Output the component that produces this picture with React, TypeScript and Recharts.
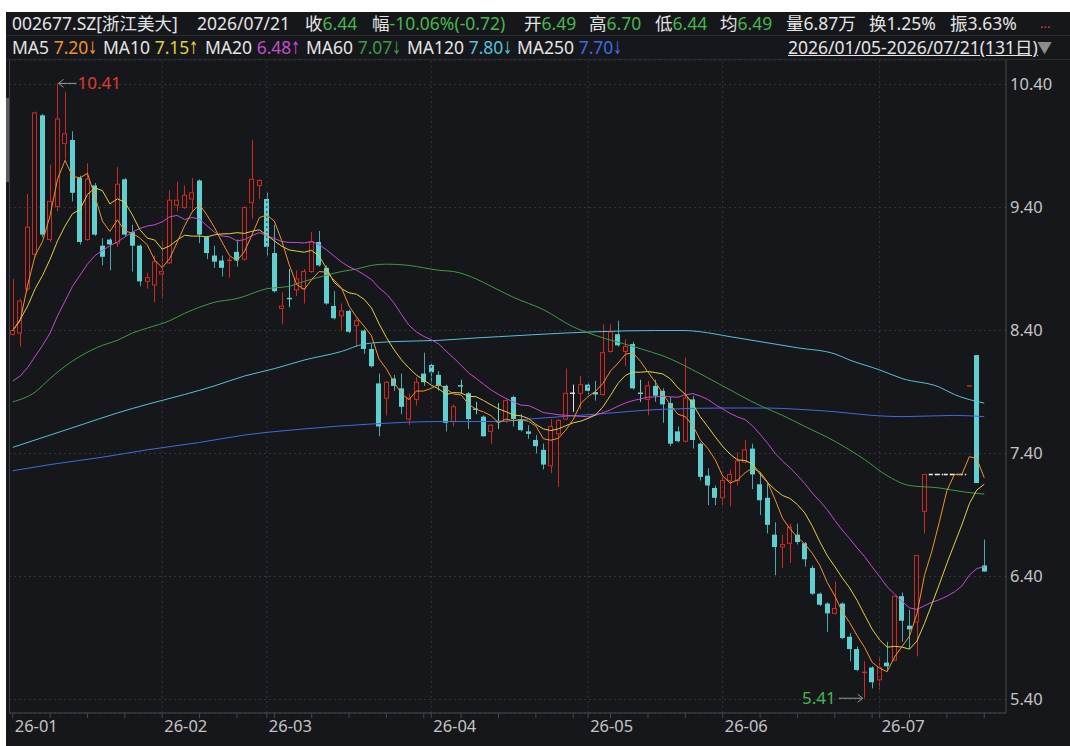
import {
  ComposedChart,
  Bar,
  Line,
  XAxis,
  YAxis,
  CartesianGrid,
  ReferenceLine,
  ReferenceDot,
} from "recharts";

// daily candles 2026/01/05 - 2026/07/21, 131 trading days
const opens = [
  8.37, 8.38, 8.74, 9.02, 10.15, 9.14, 9.41, 9.92, 9.95, 9.64,
  9.14, 9.58, 9.09, 9.14, 9.11, 9.63, 9.2, 9.09, 8.8, 8.77,
  8.86, 8.95, 9.42, 9.4, 9.47, 9.62, 9.16, 9.01, 8.97, 8.96,
  9.04, 8.98, 9.44, 9.58, 9.47, 9.03, 8.58, 8.66, 8.73, 8.74,
  8.88, 9.12, 8.91, 8.6, 8.52, 8.56, 8.44, 8.4, 8.25, 7.97,
  7.85, 8.01, 7.93, 7.68, 7.84, 8.05, 8.12, 8.04, 7.95, 7.66,
  7.95, 7.89, 7.76, 7.7, 7.58, 7.66, 7.66, 7.86, 7.68, 7.58,
  7.51, 7.43, 7.3, 7.56, 7.68, 7.89, 7.89, 7.96, 7.9, 7.88,
  8.23, 8.37, 8.23, 8.29, 7.89, 7.84, 7.95, 7.91, 7.81, 7.58,
  7.5, 7.84, 7.48, 7.22, 7.12, 7.04, 7.18, 7.18, 7.33, 7.44,
  7.15, 7.04, 6.74, 6.64, 6.67, 6.74, 6.67, 6.47, 6.26, 6.18,
  6.1, 6.18, 5.91, 5.81, 5.61, 5.66, 5.56, 5.7, 5.72, 6.24,
  6.0, 6.03, 6.93, 7.23, 7.23, 7.23, 7.23, 7.23, 7.95, 8.2,
  6.49,
];
const highs = [
  8.82, 8.66, 9.51, 10.18, 10.16, 9.75, 10.41, 10.34, 10.02, 9.66,
  9.76, 9.6, 9.15, 9.15, 9.73, 9.64, 9.26, 9.1, 8.87, 9.01,
  9.13, 9.54, 9.61, 9.58, 9.64, 9.63, 9.17, 9.09, 9.01, 9.0,
  9.14, 9.41, 9.95, 9.63, 9.52, 9.26, 8.71, 8.9, 8.89, 8.9,
  9.2, 9.21, 8.93, 8.72, 8.62, 8.57, 8.5, 8.41, 8.29, 8.05,
  7.99, 8.04, 8.05, 7.89, 8.02, 8.22, 8.13, 8.07, 7.96, 7.8,
  8.0, 7.9, 7.82, 7.71, 7.64, 7.81, 7.84, 7.87, 7.72, 7.63,
  7.55, 7.48, 7.68, 7.68, 8.09, 7.96, 8.03, 7.97, 7.99, 8.45,
  8.45, 8.48, 8.33, 8.31, 8.0, 7.99, 8.0, 7.93, 7.86, 7.62,
  8.18, 7.87, 7.49, 7.28, 7.14, 7.21, 7.27, 7.41, 7.51, 7.48,
  7.24, 7.16, 6.84, 6.74, 6.83, 6.83, 6.68, 6.49, 6.27, 6.19,
  6.36, 6.19, 5.94, 5.83, 5.71, 5.67, 5.75, 5.87, 6.24, 6.27,
  6.13, 6.57, 7.23, 7.23, 7.23, 7.23, 7.23, 7.23, 7.95, 8.2,
  6.7,
];
const lows = [
  8.36, 8.27, 8.72, 9.0, 9.16, 9.12, 9.37, 9.79, 9.45, 9.1,
  9.13, 9.17, 8.93, 8.89, 9.08, 9.17, 8.88, 8.76, 8.74, 8.63,
  8.66, 8.94, 9.37, 9.39, 9.37, 9.11, 8.98, 8.91, 8.84, 8.83,
  8.92, 8.97, 9.31, 9.47, 9.01, 8.71, 8.45, 8.59, 8.68, 8.62,
  8.87, 8.92, 8.61, 8.49, 8.4, 8.38, 8.27, 8.21, 8.1, 7.54,
  7.71, 7.91, 7.72, 7.63, 7.79, 7.95, 7.97, 7.91, 7.58, 7.62,
  7.89, 7.6, 7.72, 7.54, 7.48, 7.6, 7.65, 7.62, 7.58, 7.52,
  7.4, 7.27, 7.24, 7.13, 7.67, 7.74, 7.76, 7.88, 7.83, 7.87,
  8.22, 8.27, 8.11, 7.92, 7.82, 7.71, 7.82, 7.65, 7.46, 7.49,
  7.49, 7.44, 7.18, 6.98, 6.98, 6.98, 6.97, 7.14, 7.32, 7.11,
  6.9, 6.75, 6.41, 6.47, 6.51, 6.66, 6.48, 6.25, 6.16, 5.95,
  6.09, 5.89, 5.71, 5.63, 5.41, 5.49, 5.48, 5.63, 5.71, 5.87,
  5.81, 5.75, 6.75, 7.23, 7.23, 7.23, 7.23, 7.23, 7.95, 7.16,
  6.44,
];
const closes = [
  8.4, 8.64, 9.24, 10.17, 9.18, 9.45, 10.12, 10.0, 9.52, 9.12,
  9.63, 9.18, 9.0, 9.1, 9.59, 9.18, 9.09, 8.8, 8.83, 8.96,
  8.88, 9.46, 9.46, 9.5, 9.52, 9.18, 9.03, 8.96, 8.91, 8.97,
  8.97, 9.4, 9.63, 9.62, 9.08, 8.72, 8.6, 8.65, 8.82, 8.88,
  9.12, 8.93, 8.62, 8.5, 8.56, 8.39, 8.48, 8.25, 8.11, 7.62,
  7.98, 7.95, 7.78, 7.85, 7.98, 7.98, 8.06, 7.95, 7.65, 7.78,
  7.94, 7.68, 7.75, 7.54, 7.63, 7.65, 7.83, 7.68, 7.59, 7.56,
  7.46, 7.31, 7.62, 7.67, 7.89, 7.89, 7.96, 7.91, 7.88, 8.22,
  8.39, 8.28, 8.27, 7.93, 7.88, 7.95, 7.87, 7.8, 7.48, 7.5,
  7.85, 7.51, 7.21, 7.14, 7.04, 7.18, 7.23, 7.34, 7.43, 7.23,
  7.02, 6.82, 6.64, 6.66, 6.8, 6.68, 6.54, 6.26, 6.17, 6.1,
  6.14, 5.9, 5.81, 5.64, 5.62, 5.54, 5.66, 5.67, 6.24, 6.04,
  5.97, 6.57, 7.23, 7.23, 7.23, 7.23, 7.23, 7.23, 7.95, 7.16,
  6.44,
];
// suspended days (drawn as a dashed line at the last price)
const haltedDays = [123, 124, 125, 126, 127];

// values of the short averages before their window fits in the range
const ma5Head = [8.4, 8.48, 8.77, 9.01];
const ma10Head = [8.4, 8.49, 8.6, 8.74, 8.85, 8.98, 9.13, 9.25, 9.35];
const ma20Head = [
  7.99, 8.03, 8.1, 8.19, 8.28, 8.38, 8.52, 8.64, 8.76, 8.85,
  8.94, 9.01, 9.05, 9.09, 9.12, 9.16, 9.2, 9.23, 9.25,
];

// long averages: [day index, value]
const ma60Pts = [
  [0, 7.82], [3, 7.9], [5, 8.01], [7, 8.11], [9, 8.19], [12, 8.28], [14, 8.32],
  [16, 8.38], [18, 8.42], [21, 8.48], [23, 8.54], [25, 8.59], [27, 8.63], [30, 8.66],
  [34, 8.74], [37, 8.76], [39, 8.8], [42, 8.85], [44, 8.88], [46, 8.9], [48, 8.93],
  [50, 8.94], [53, 8.93], [55, 8.91], [57, 8.89], [59, 8.88], [62, 8.82], [64, 8.76],
  [67, 8.67], [71, 8.57], [75, 8.43], [78, 8.36], [83, 8.27], [88, 8.17], [91, 8.08],
  [95, 7.95], [100, 7.79], [103, 7.71], [106, 7.62], [110, 7.5], [114, 7.35],
  [117, 7.22], [120, 7.14], [124, 7.12], [127, 7.09], [130, 7.07],
];
const ma120Pts = [
  [0, 7.45], [5, 7.55], [9, 7.63], [14, 7.73], [18, 7.8], [23, 7.88], [27, 7.95],
  [31, 8.03], [35, 8.09], [39, 8.16], [44, 8.23], [47, 8.29], [51, 8.31], [57, 8.32],
  [62, 8.34], [65, 8.35], [74, 8.38], [78, 8.39], [86, 8.4], [90, 8.4], [92, 8.39],
  [96, 8.35], [100, 8.31], [105, 8.26], [110, 8.21], [112, 8.16], [116, 8.08],
  [119, 8.01], [124, 7.94], [126, 7.88], [130, 7.81],
];
const ma250Pts = [
  [0, 7.26], [5, 7.31], [12, 7.37], [18, 7.43], [25, 7.49], [31, 7.55], [39, 7.6],
  [48, 7.64], [57, 7.66], [65, 7.66], [69, 7.68], [78, 7.72], [87, 7.76], [95, 7.77],
  [101, 7.77], [105, 7.76], [110, 7.74], [115, 7.71], [119, 7.7], [126, 7.71], [130, 7.7],
];

const monthStarts = [0, 20, 34, 56, 77, 95, 116];
const monthLabels = ["26-01", "26-02", "26-03", "26-04", "26-05", "26-06", "26-07"];
const priceTicks = [5.4, 6.4, 7.4, 8.4, 9.4, 10.4];

const BG = "#16171b";
const UP = "#cf2a22";
const DOWN = "#5fcfcf";
const FLAT = "#e6e6e6";
const TXT = "#e4e4e4";
const GREEN = "#46b84e";
const AXIS = "#46474c";
const FONT = "'Noto Sans', 'Noto Sans CJK SC', sans-serif";
const MA_COLORS = {
  ma5: "#f0922e",
  ma10: "#e2cf40",
  ma20: "#c24ccf",
  ma60: "#3f9a45",
  ma120: "#57c0d8",
  ma250: "#3f6be0",
};

function movingAvg(n: number, head: number[], i: number) {
  if (i < n - 1) return head[i];
  let s = 0;
  for (let k = i - n + 1; k <= i; k++) s += closes[k];
  return s / n;
}

function pick(pts: number[][], i: number) {
  const p = pts.find((q) => q[0] === i);
  return p ? p[1] : null;
}

const rows = closes.map((close, i) => ({
  i,
  open: opens[i],
  high: highs[i],
  low: lows[i],
  close,
  prev: i > 0 ? closes[i - 1] : opens[i],
  halted: haltedDays.includes(i),
  range: [lows[i], highs[i]],
  ma5: movingAvg(5, ma5Head, i),
  ma10: movingAvg(10, ma10Head, i),
  ma20: movingAvg(20, ma20Head, i),
  ma60: pick(ma60Pts, i),
  ma120: pick(ma120Pts, i),
  ma250: pick(ma250Pts, i),
}));

const axisTicks = Array.from(
  new Set([...Array.from({ length: 27 }, (_, k) => k * 5), ...monthStarts])
)
  .filter((v) => v < closes.length)
  .sort((a, b) => a - b);

function Candle(props: any) {
  const { x, y, width, height, payload } = props;
  const { open, close, high, low, prev, halted } = payload;
  const cx = Math.round(x + width / 2) + 0.5;
  const span = high - low;
  const toY = (p: number) => (span > 0 ? y + ((high - p) / span) * height : y);
  if (halted) {
    return (
      <line x1={cx - 3.7} x2={cx + 3.7} y1={y} y2={y} stroke="#f2f2f2" strokeWidth={1.5} strokeDasharray="4 2" />
    );
  }
  const dir = close !== open ? close - open : close - prev;
  const color = dir > 0 ? UP : dir < 0 ? DOWN : FLAT;
  const top = toY(Math.max(open, close));
  const bot = toY(Math.min(open, close));
  const left = Math.round(x) + 0.5;
  const w = Math.round(width) - 1;
  if (bot - top < 1.5) {
    return (
      <g>
        {span > 0 && <line x1={cx} x2={cx} y1={y} y2={y + height} stroke={color} />}
        <line x1={left - 0.5} x2={left + w + 0.5} y1={top} y2={top} stroke={color} strokeWidth={1.5} />
      </g>
    );
  }
  if (close > open) {
    return (
      <g>
        <line x1={cx} x2={cx} y1={y} y2={top} stroke={color} />
        <line x1={cx} x2={cx} y1={bot} y2={y + height} stroke={color} />
        <rect x={left} y={top} width={w} height={bot - top} fill={BG} stroke={color} />
      </g>
    );
  }
  return (
    <g>
      <line x1={cx} x2={cx} y1={y} y2={y + height} stroke="#4aa9ad" />
      <rect x={left - 0.5} y={top} width={w + 1} height={bot - top} fill={color} />
    </g>
  );
}

function MonthTick({ x, y, payload }: any) {
  const k = monthStarts.indexOf(payload.value);
  if (k < 0) return <g />;
  return (
    <text x={x + 2} y={y} dy="0.71em" fill="#c4c4c4" fontSize={16.5} fontFamily={FONT}>
      {monthLabels[k]}
    </text>
  );
}

function HighMark({ cx, cy }: any) {
  return (
    <g>
      <line x1={cx + 1} x2={cx + 19} y1={cy} y2={cy} stroke="#9a9a9a" />
      <path d={`M${cx + 6},${cy - 4} L${cx + 1},${cy} L${cx + 6},${cy + 4}`} fill="none" stroke="#9a9a9a" />
      <text x={cx + 20} y={cy} dy="0.35em" fill="#e03a35" fontSize={17} fontFamily={FONT}>
        10.41
      </text>
    </g>
  );
}

function LowMark({ cx, cy }: any) {
  return (
    <g>
      <line x1={cx - 26} x2={cx - 2} y1={cy} y2={cy} stroke="#9a9a9a" />
      <path d={`M${cx - 7},${cy - 4} L${cx - 2},${cy} L${cx - 7},${cy + 4}`} fill="none" stroke="#9a9a9a" />
      <text x={cx - 29} y={cy} dy="0.35em" textAnchor="end" fill={GREEN} fontSize={17} fontFamily={FONT}>
        5.41
      </text>
    </g>
  );
}

const header1 = [
  { x: 6, parts: [["002677.SZ[浙江美大]", TXT]] },
  { x: 191, parts: [["2026/07/21", TXT]] },
  { x: 299, parts: [["收", TXT], ["6.44", GREEN]] },
  { x: 366, parts: [["幅", TXT], ["-10.06%(-0.72)", GREEN]] },
  { x: 518, parts: [["开", TXT], ["6.49", GREEN]] },
  { x: 583, parts: [["高", TXT], ["6.70", GREEN]] },
  { x: 649, parts: [["低", TXT], ["6.44", GREEN]] },
  { x: 714, parts: [["均", TXT], ["6.49", GREEN]] },
  { x: 780, parts: [["量6.87万", TXT]] },
  { x: 863, parts: [["换1.25%", TXT]] },
  { x: 944, parts: [["振3.63%", TXT]] },
];

// legend: name, value, trend arrow
const header2 = [
  { x: 6, name: "MA5", value: "7.20", arrow: "↓", color: MA_COLORS.ma5 },
  { x: 97, name: "MA10", value: "7.15", arrow: "↑", color: MA_COLORS.ma10 },
  { x: 199, name: "MA20", value: "6.48", arrow: "↑", color: MA_COLORS.ma20 },
  { x: 300, name: "MA60", value: "7.07", arrow: "↓", color: MA_COLORS.ma60 },
  { x: 401, name: "MA120", value: "7.80", arrow: "↓", color: MA_COLORS.ma120 },
  { x: 511, name: "MA250", value: "7.70", arrow: "↓", color: MA_COLORS.ma250 },
];

const rowStyle = {
  position: "absolute" as const,
  height: 23,
  lineHeight: "23px",
  fontSize: 17.5,
  whiteSpace: "nowrap" as const,
};

export default function App() {
  return (
    <div
      style={{
        position: "absolute",
        left: 6,
        top: 12,
        width: 1064,
        height: 734,
        background: BG,
        fontFamily: FONT,
        overflow: "hidden",
      }}
    >
      <div style={{ position: "absolute", left: 0, top: 0 }}>
        <ComposedChart
          width={1064}
          height={734}
          data={rows}
          margin={{ top: 48, right: 8, bottom: 0, left: 3 }}
        >
          <CartesianGrid vertical={false} stroke="#35363c" strokeDasharray="2 3" />
          {monthStarts.slice(1).map((m) => (
            <ReferenceLine key={m} x={m} stroke="#35363c" strokeDasharray="2 3" />
          ))}
          <XAxis
            dataKey="i"
            type="category"
            ticks={axisTicks}
            interval={0}
            tick={<MonthTick />}
            tickSize={5}
            tickMargin={2}
            tickLine={{ stroke: AXIS }}
            axisLine={{ stroke: AXIS }}
            padding={{ left: 0, right: 18 }}
            height={33}
          />
          <YAxis
            orientation="right"
            domain={[5.29, 10.6]}
            ticks={priceTicks}
            allowDataOverflow
            tickFormatter={(v) => v.toFixed(2)}
            tick={{ fill: "#c4c4c4", fontSize: 16.5, fontFamily: FONT, textAnchor: "start" }}
            tickLine={false}
            tickSize={4}
            tickMargin={0}
            axisLine={{ stroke: AXIS }}
            width={56}
          />
          <Bar dataKey="range" barSize={5} isAnimationActive={false} shape={(p: any) => <Candle {...p} />} />
          <Line dataKey="ma250" type="monotone" stroke={MA_COLORS.ma250} strokeWidth={1} dot={false} connectNulls isAnimationActive={false} />
          <Line dataKey="ma120" type="monotone" stroke={MA_COLORS.ma120} strokeWidth={1} dot={false} connectNulls isAnimationActive={false} />
          <Line dataKey="ma60" type="monotone" stroke={MA_COLORS.ma60} strokeWidth={1} dot={false} connectNulls isAnimationActive={false} />
          <Line dataKey="ma20" type="linear" stroke={MA_COLORS.ma20} strokeWidth={1} dot={false} isAnimationActive={false} />
          <Line dataKey="ma10" type="linear" stroke={MA_COLORS.ma10} strokeWidth={1} dot={false} isAnimationActive={false} />
          <Line dataKey="ma5" type="linear" stroke={MA_COLORS.ma5} strokeWidth={1} dot={false} isAnimationActive={false} />
          <ReferenceDot x={6} y={10.41} r={0} shape={(p: any) => <HighMark {...p} />} />
          <ReferenceDot x={114} y={5.41} r={0} shape={(p: any) => <LowMark {...p} />} />
        </ComposedChart>
      </div>

      {/* quote header */}
      <div style={{ position: "absolute", left: 0, top: 23, width: 1064, height: 1, background: "#2b2c31" }} />
      <div style={{ position: "absolute", left: 0, top: 47, width: 1064, height: 1, background: "#2b2c31" }} />
      {header1.map((it, k) => (
        <div key={k} style={{ ...rowStyle, left: it.x, top: 0 }}>
          {it.parts.map(([t, c], j) => (
            <span key={j} style={{ color: c }}>
              {t}
            </span>
          ))}
        </div>
      ))}
      {header2.map((it) => (
        <div key={it.name} style={{ ...rowStyle, left: it.x, top: 24, color: TXT }}>
          {it.name}{" "}
          <span style={{ color: it.color }}>
            {it.value}
            <span
              style={{
                display: "inline-block",
                width: 9,
                fontFamily: "'DejaVu Sans', sans-serif",
                transform: "scaleX(0.62)",
                transformOrigin: "left center",
              }}
            >
              {it.arrow}
            </span>
          </span>
        </div>
      ))}
      <div style={{ ...rowStyle, left: 782, top: 24, color: TXT, textDecoration: "underline" }}>
        2026/01/05-2026/07/21(131日)
      </div>
      <div style={{ position: "absolute", left: 1031, top: 24, lineHeight: "23px", fontSize: 15, color: "#8c8c8c" }}>▼</div>
      <div style={{ position: "absolute", left: 1034, top: 0, lineHeight: "23px", fontSize: 13, color: "#e03a35" }}>...</div>

      {/* left frame line and scroll thumb */}
      <div style={{ position: "absolute", left: 3, top: 48, width: 1, height: 653, background: "#3c3d42" }} />
      <div style={{ position: "absolute", left: 0, top: 86, width: 3, height: 84, background: "#5a5b60" }} />
    </div>
  );
}
